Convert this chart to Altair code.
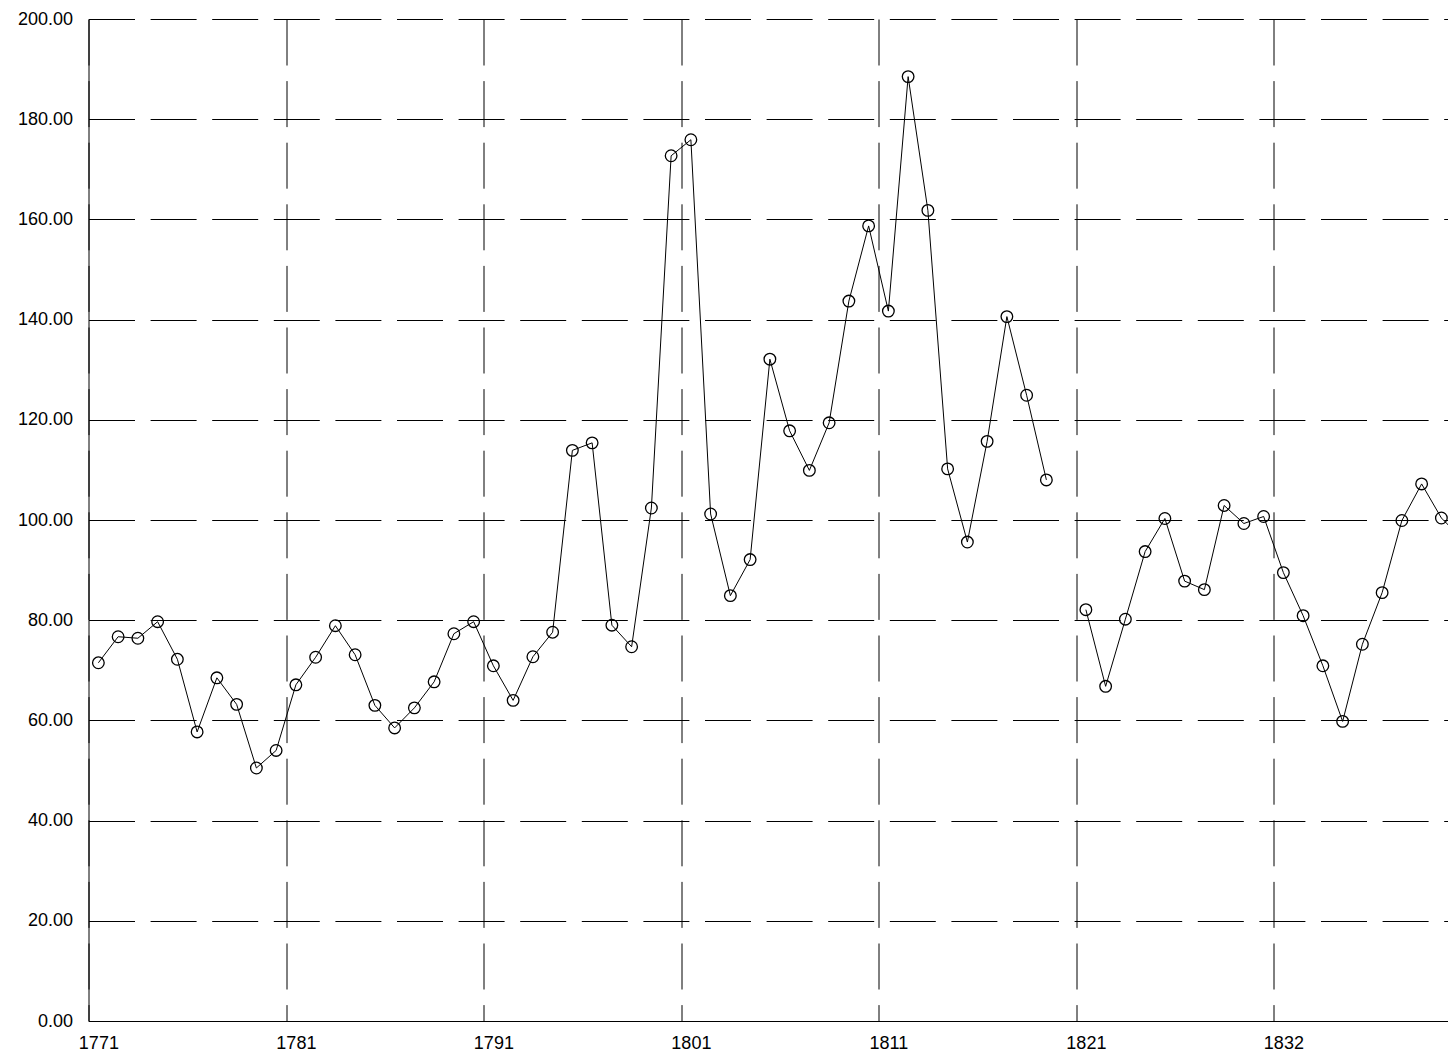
import altair as alt
import pandas as pd

# category labels (one per position along the x axis)
years = [
    "1771", "1772", "1773", "1774", "1775", "1776", "1777", "1778", "1779", "1780",
    "1781", "1782", "1783", "1784", "1785", "1786", "1787", "1788", "1789", "1790",
    "1791", "1792", "1793", "1794", "1795", "1796", "1797", "1798", "1799", "1800",
    "1801", "1802", "1803", "1804", "1805", "1806", "1807", "1808", "1809", "1810",
    "1811", "1812", "1813", "1814", "1815", "1816", "1817", "1818", "1819", "1820",
    "1821", "1822", "1823", "1824", "1825", "1826", "1827", "1828", "1829", "1830",
    "1832", "1833", "1834", "1835", "1836", "1837", "1838", "1839", "1840", "1841",
]

# series values (None = missing value, breaks the line)
values = [
    71.5, 76.7, 76.4, 79.7, 72.2, 57.7, 68.5, 63.2, 50.5, 54.0,
    67.1, 72.6, 78.9, 73.1, 63.0, 58.5, 62.5, 67.7, 77.3, 79.7,
    70.9, 64.0, 72.7, 77.6, 113.9, 115.4, 79.0, 74.7, 102.4, 172.7,
    175.9, 101.2, 84.9, 92.1, 132.1, 117.8, 109.9, 119.4, 143.7, 158.7,
    141.7, 188.5, 161.8, 110.2, 95.6, 115.7, 140.6, 124.9, 108.0, None,
    82.1, 66.8, 80.2, 93.7, 100.3, 87.8, 86.1, 102.9, 99.3, 100.7,
    89.5, 80.9, 70.9, 59.8, 75.2, 85.5, 99.9, 107.2, 100.4, 96.4,
]

# labelled tick positions (category index)
tick_index = [0, 10, 20, 30, 40, 50, 60]
y_ticks = [0, 20, 40, 60, 80, 100, 120, 140, 160, 180, 200]

# segment id: the line restarts after each missing value
seg_ids = []
seg = 0
for v in values:
    if v is None:
        seg += 1
    seg_ids.append(seg)

df = pd.DataFrame({
    "idx": list(range(len(years))),
    "year": years,
    "value": values,
    "seg": seg_ids,
})
df["pos"] = df["idx"] + 0.5

label_expr = "''"
for i in reversed(tick_index):
    label_expr = f"datum.value == {i} ? '{years[i]}' : " + label_expr

STEP = 19.75
VIEW_W = 1359.5
VIEW_H = 1002
FONT = "Liberation Sans"
FONT_SIZE = 18

x_enc = alt.X(
    "pos:Q",
    scale=alt.Scale(domain=[0, VIEW_W / STEP], nice=False, zero=False),
    axis=alt.Axis(
        values=tick_index,
        labelExpr=label_expr,
        grid=True,
        ticks=False,
        tickSize=0,
        labelOffset=STEP / 2,
        labelPadding=13,
        labelFlush=False,
        labelOverlap=False,
        labelBound=False,
        gridDashOffset=0,
        title=None,
    ),
)
y_enc = alt.Y(
    "value:Q",
    scale=alt.Scale(domain=[0, 200], nice=False, zero=False),
    axis=alt.Axis(
        values=y_ticks,
        format=".2f",
        grid=True,
        ticks=False,
        tickSize=0,
        labelPadding=16,
        labelFlush=False,
        labelOverlap=False,
        labelBound=False,
        title=None,
    ),
)

base = alt.Chart(df)

line = base.mark_line(color="black", strokeWidth=1, clip=True).encode(
    x=x_enc, y=y_enc, detail="seg:N"
)
points = base.mark_point(
    shape="circle", filled=False, color="black", size=135, strokeWidth=1.3,
    opacity=1, clip=True
).encode(x=x_enc, y=y_enc)

chart = alt.layer(line, points).properties(
    width=VIEW_W,
    height=VIEW_H,
    padding={"left": 80.5, "top": 11, "right": 0, "bottom": 32},
    autosize=alt.AutoSizeParams(type="none"),
    background="white",
).configure_axis(
    labelFont=FONT,
    labelFontSize=FONT_SIZE,
    labelColor="black",
    domainColor="black",
    domainWidth=1,
    gridColor="black",
    gridWidth=1,
    gridOpacity=1,
    gridDash=[46, 15.6],
).configure_view(strokeWidth=0)

chart.save("out.html", embed_options={"renderer": "svg", "actions": False})
